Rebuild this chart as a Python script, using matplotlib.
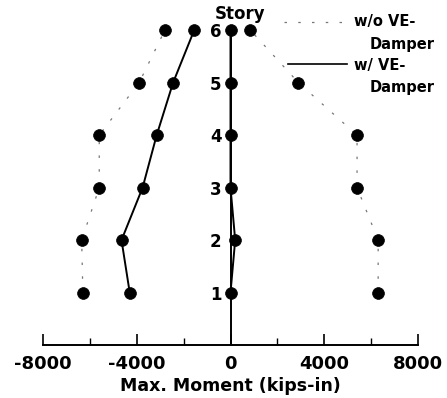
import matplotlib.pyplot as plt

stories = [1, 2, 3, 4, 5, 6]
# max moment (kips-in), negative and positive envelopes
wo_neg = [-6300, -6350, -5600, -5600, -3900, -2800]
wo_pos = [6300, 6300, 5400, 5400, 2900, 850]
w_neg = [-4300, -4650, -3750, -3150, -2450, -1550]
w_pos = [0, 200, 0, 0, 0, 0]

plt.rcParams['font.family'] = ['DejaVu Sans']
plt.rcParams['font.weight'] = 'bold'

fig = plt.figure(figsize=(4.47, 3.98), dpi=100)
ax = fig.add_axes([43 / 447, 53 / 398, 375 / 447, 341 / 398])

dot = dict(color='#777777', linestyle=(0, (2, 9)), linewidth=0.9,
           marker='o', markersize=8.5, markeredgewidth=0.5,
           markerfacecolor='black', markeredgecolor='black')
sol = dict(color='black', linestyle='-', linewidth=1.4,
           marker='o', markersize=8.5, markeredgewidth=0.5,
           markerfacecolor='black', markeredgecolor='black')

ax.plot(wo_neg, stories, **dot)
ax.plot(wo_pos, stories, **dot)
ax.plot(w_neg, stories, **sol)
ax.plot(w_pos, stories, **sol)

ax.set_xlim(-8000, 8000)
ax.set_ylim(0, 6.5)

for s in ['top', 'right']:
    ax.spines[s].set_visible(False)
ax.spines['left'].set_position(('data', 0))
ax.spines['left'].set_bounds(0, 6)
ax.spines['left'].set_linewidth(1.4)
ax.spines['bottom'].set_linewidth(1.4)

ax.set_xticks([-8000, -4000, 0, 4000, 8000])
ax.set_xticks([-6000, -2000, 2000, 6000], minor=True)
ax.tick_params(axis='x', direction='in', length=8, width=1.2, labelsize=13, pad=7)
ax.tick_params(axis='x', which='minor', direction='in', length=5, width=1.0)
ax.set_xticklabels(['-8000', '-4000', '0', '4000', '8000'], fontweight='bold')

ax.set_yticks(stories)
ax.set_yticklabels([str(s) for s in stories], fontweight='bold')
ax.tick_params(axis='y', length=0, labelsize=12, pad=6.5)

ax.set_xlabel('Max. Moment (kips-in)', fontsize=12.5, fontweight='bold', labelpad=3)
ax.text(400, 6.13, 'Story', ha='center', va='bottom', fontsize=12, fontweight='bold',
        clip_on=False)

# legend drawn by hand
ax.plot([2300, 4860], [6.16, 6.16], color='#777777', linestyle=(0, (2, 9)),
        linewidth=0.9, clip_on=False)
ax.text(5290, 6.16, 'w/o VE-', ha='left', va='center', fontsize=10.5,
        fontweight='bold', clip_on=False)
ax.text(5930, 5.72, 'Damper', ha='left', va='center', fontsize=10.5,
        fontweight='bold', clip_on=False)
ax.plot([2470, 4990], [5.36, 5.36], color='black', linewidth=1.2, clip_on=False)
ax.text(5290, 5.32, 'w/ VE-', ha='left', va='center', fontsize=10.5,
        fontweight='bold', clip_on=False)
ax.text(5930, 4.9, 'Damper', ha='left', va='center', fontsize=10.5,
        fontweight='bold', clip_on=False)

fig.savefig('out.png', dpi=100)
